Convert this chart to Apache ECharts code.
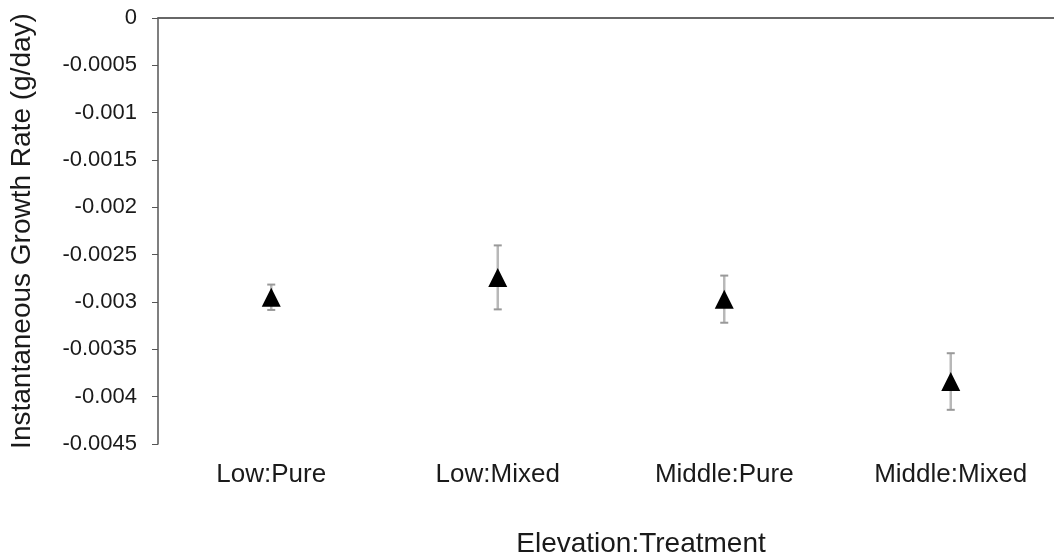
<!DOCTYPE html>
<html>
<head>
<meta charset="utf-8">
<script src="https://cdn.jsdelivr.net/npm/echarts@6/dist/echarts.min.js"></script>
<style>
  html, body {margin: 0; padding: 0; background: #fff;}
  #chart {width: 1054px; height: 560px;}
</style>
</head>
<body>
<div id="chart"></div>
<script>
// values
const categories = ['Low:Pure', 'Low:Mixed', 'Middle:Pure', 'Middle:Mixed'];
const means = [-0.00295, -0.00274, -0.00297, -0.00384];
const errors = [0.000134, 0.000338, 0.000249, 0.000299];
const yTicks = {min: -0.0045, max: 0, interval: 0.0005};

const font = '"Liberation Sans", Arial, sans-serif';
const chart = echarts.init(document.getElementById('chart'));

const errData = categories.map((c, i) => [i, means[i] - errors[i], means[i] + errors[i]]);

chart.setOption({
  animation: false,
  // plot runs a little past the right edge of the picture
  grid: {left: 158, width: 906, top: 18, bottom: 116, outerBoundsMode: 'none'},
  xAxis: [
    {
      type: 'category',
      data: categories,
      position: 'bottom',
      axisLine: {lineStyle: {color: '#b4b4b4', width: 1.5}},
      axisTick: {show: false},
      axisLabel: {fontFamily: font, fontSize: 26, color: '#1a1a1a', margin: 18}
    },
    {
      type: 'category',
      data: categories,
      position: 'top',
      axisLine: {lineStyle: {color: '#4a4a4a', width: 1.5}},
      axisTick: {show: false},
      axisLabel: {show: false}
    }
  ],
  yAxis: {
    type: 'value',
    min: yTicks.min,
    max: yTicks.max,
    interval: yTicks.interval,
    axisLine: {show: true, lineStyle: {color: '#555', width: 1.5}},
    axisTick: {show: true, length: 6, lineStyle: {color: '#555'}},
    splitLine: {show: false},
    axisLabel: {
      fontFamily: font, fontSize: 22, color: '#1a1a1a', margin: 21,
      formatter: v => String(Number(v.toFixed(4)))
    }
  },
  graphic: [
    {
      type: 'text', x: 22, y: 231, rotation: Math.PI / 2,
      style: {text: 'Instantaneous Growth Rate (g/day)', font: '28px ' + font,
        fill: '#1a1a1a', align: 'center', verticalAlign: 'middle'}
    },
    {
      type: 'text', x: 641, y: 544,
      style: {text: 'Elevation:Treatment', font: '28px ' + font,
        fill: '#1a1a1a', align: 'center', verticalAlign: 'middle'}
    }
  ],
  series: [
    {
      type: 'custom',
      data: errData,
      z: 1,
      renderItem: (params, api) => {
        const lo = api.coord([api.value(0), api.value(1)]);
        const hi = api.coord([api.value(0), api.value(2)]);
        const cap = 4;
        const style = {stroke: '#b8b8b8', lineWidth: 2.5};
        const capStyle = {stroke: '#999', lineWidth: 2};
        return {
          type: 'group',
          children: [
            {type: 'line', shape: {x1: lo[0], y1: lo[1], x2: hi[0], y2: hi[1]}, style},
            {type: 'line', shape: {x1: lo[0] - cap, y1: lo[1], x2: lo[0] + cap, y2: lo[1]}, style: capStyle},
            {type: 'line', shape: {x1: hi[0] - cap, y1: hi[1], x2: hi[0] + cap, y2: hi[1]}, style: capStyle}
          ]
        };
      }
    },
    {
      type: 'scatter',
      data: means,
      z: 3,
      symbol: 'triangle',
      symbolSize: [19, 19],
      itemStyle: {color: '#000', opacity: 1}
    }
  ]
});
</script>
</body>
</html>
